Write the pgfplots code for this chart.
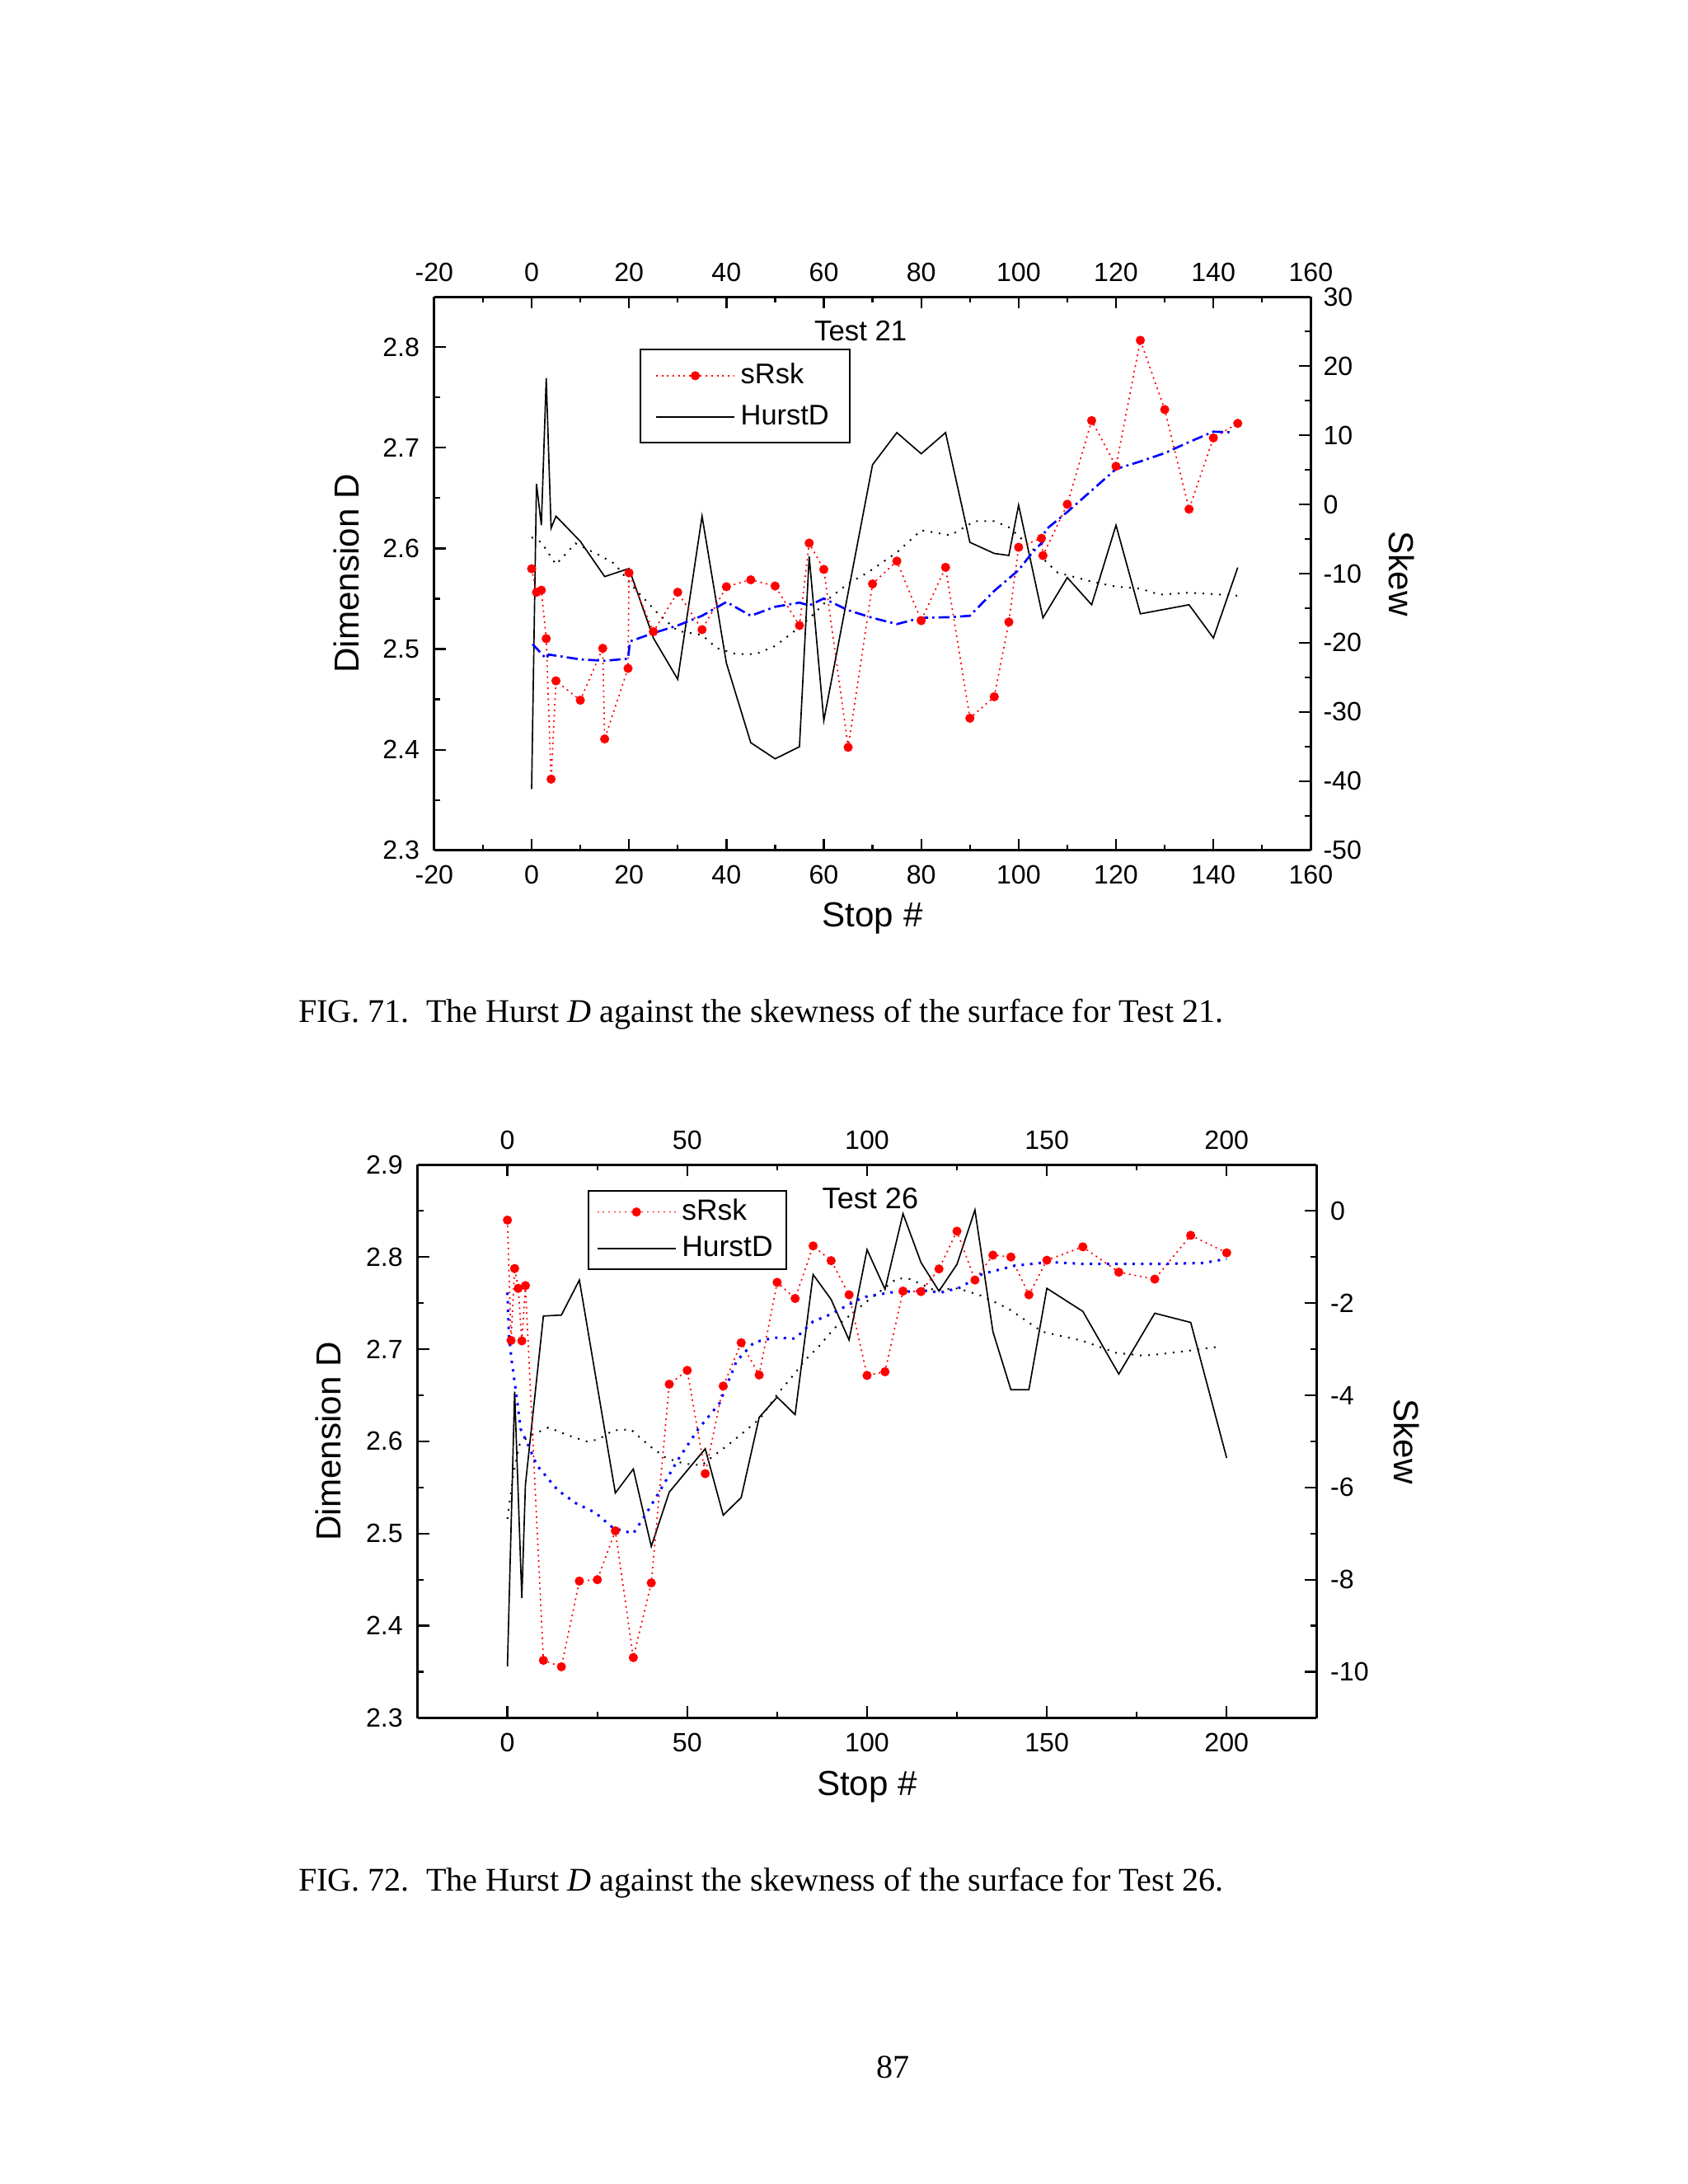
\documentclass[border=0pt]{standalone}
\usepackage{pgfplots}
\pgfplotsset{compat=1.18}
\usepackage{fontspec}
\setmainfont{Liberation Serif}
\newfontfamily\arial{Liberation Sans}

\pgfplotstableread{
x y
0 2.361
1 2.664
2 2.623
3 2.769
4 2.620
5 2.632
10 2.607
15 2.572
20 2.580
25 2.511
30 2.470
35 2.632
40 2.486
45 2.407
50 2.391
55 2.403
57 2.592
60 2.429
70 2.683
75 2.715
80 2.694
85 2.715
90 2.606
95 2.595
98 2.593
100 2.643
105 2.531
110 2.571
115 2.544
120 2.623
125 2.535
135 2.544
140 2.511
145 2.581
}\hurstA

\pgfplotstableread{
x y
0 2.611
2 2.606
5 2.584
9 2.605
14 2.593
17 2.585
21 2.561
26 2.535
30 2.518
35 2.514
38 2.501
42 2.495
46 2.495
50 2.503
54 2.518
58 2.535
61 2.550
65 2.565
69 2.576
75 2.596
80 2.618
86 2.613
91 2.627
95 2.627
98 2.621
103 2.599
108 2.576
115 2.567
120 2.562
125 2.560
129 2.554
135 2.556
145 2.553
}\fitHA

\pgfplotstableread{
x y
0 -9.3
1 -12.7
2 -12.4
3 -19.4
4 -39.7
5 -25.5
10 -28.3
14.6 -20.8
15 -33.9
19.8 -23.7
20 -9.9
25 -18.4
30 -12.7
35 -18.1
40 -11.9
45 -10.9
50 -11.8
55 -17.5
57 -5.6
60 -9.4
65 -35.1
70 -11.5
75 -8.2
80 -16.8
85 -9.1
90 -30.9
95 -27.8
98 -17.0
100 -6.2
104.7 -4.9
105 -7.4
110 0.0
115 12.1
120 5.5
125 23.7
130 13.7
135 -0.7
140 9.6
145 11.7
}\skewA

\pgfplotstableread{
x y
0.2 -20.2
3 -22.3
3.5 -21.7
10 -22.4
15 -22.6
19.8 -22.3
20.2 -19.8
25 -18.6
30 -17.5
35 -16.1
40 -14.1
45 -16.1
50 -14.8
55 -14.2
57 -14.6
60 -13.6
65 -15.3
70 -16.4
75 -17.3
80 -16.4
86 -16.3
90 -16.1
95 -12.5
100 -9.5
103 -6.8
105 -5.4
105.5 -3.7
110 -1.1
115 2.0
120 5.1
125 6.2
130 7.4
135 9.0
140 10.5
144 10.4
}\fitSA

\pgfplotstableread{
x y
0 2.356
2 2.654
4 2.430
5 2.553
10 2.736
15 2.737
20 2.775
30 2.544
35 2.570
40 2.486
45 2.545
55 2.592
60 2.520
65 2.539
70 2.626
75 2.648
80 2.629
85 2.781
90 2.754
95 2.710
100 2.808
105 2.765
110 2.847
115 2.794
120 2.763
125 2.792
130 2.851
135 2.719
140 2.656
145 2.656
150 2.766
160 2.741
170 2.673
180 2.739
190 2.729
200 2.582
}\hurstB

\pgfplotstableread{
x y
0 2.516
1.6 2.563
3.3 2.596
5.7 2.605
11.4 2.615
18 2.605
22 2.600
25.3 2.602
29.4 2.612
34.3 2.613
39.2 2.596
44.1 2.582
49 2.576
54 2.574
57.2 2.584
61.3 2.596
65.4 2.609
70.3 2.625
75.2 2.652
80 2.674
82.5 2.687
86.6 2.703
90.7 2.722
95.6 2.738
100 2.752
108.4 2.777
112 2.776
118.7 2.764
125.3 2.766
131.8 2.758
139.3 2.744
148.7 2.719
160 2.709
169.3 2.696
176.8 2.693
182.4 2.695
190.8 2.699
198.3 2.703
}\fitHB

\pgfplotstableread{
x y
0 -0.2
1 -2.81
2 -1.25
3 -1.68
4 -2.82
5 -1.62
10 -9.75
15 -9.89
20 -8.03
25 -8.0
30 -6.94
35 -9.69
40 -8.07
45 -3.76
50 -3.46
55 -5.70
60 -3.80
65 -2.86
70 -3.56
75 -1.55
80 -1.90
85 -0.76
90 -1.08
95 -1.82
100 -3.57
105 -3.49
110 -1.74
115 -1.75
120 -1.26
125 -0.44
130 -1.50
135 -0.96
140 -1.00
145 -1.82
150 -1.07
160 -0.78
170 -1.33
180 -1.48
190 -0.53
200 -0.91
}\skewB

\pgfplotstableread{
x y
0 -1.77
0.4 -2.69
1.2 -3.26
2.5 -4.0
3.7 -4.74
5.7 -5.07
8.2 -5.52
14 -6.06
19 -6.34
24.5 -6.55
29.4 -6.88
35 -7.0
38.4 -6.59
42.5 -6.06
47.4 -5.40
53 -4.74
59 -4.17
63.7 -3.26
68.6 -2.85
74.3 -2.75
80 -2.77
85 -2.40
90 -2.24
95 -2.03
99 -1.87
106.5 -1.77
116 -1.73
120.6 -1.77
126 -1.66
132 -1.37
141 -1.19
150.6 -1.11
160 -1.15
172 -1.15
182.4 -1.15
193.6 -1.13
200 -1.04
}\fitSB

\pgfplotsset{
  base/.style={
    scale only axis,
    anchor=south west,
    tick align=inside,
    major tick length=4.2pt,
    minor tick length=2.1pt,
    tick style={black, line width=0.7pt},
    axis line style={line width=0.9pt, -},
    tick label style={font=\arial\fontsize{9.6}{11}\selectfont},
    label style={font=\arial\fontsize{12.6}{14}\selectfont},
    xticklabel shift=2pt,
    /pgf/number format/assume math mode=true,
    legend image code/.code={\draw[mark repeat=2,mark phase=2] plot coordinates {(0cm,0cm) (0.5cm,0cm) (1.0cm,0cm)};},
  },
  hurst/.style={black, line width=0.5pt, no marks},
  hfit/.style={black, line width=0.6pt, dash pattern=on 0.6pt off 2.4pt, no marks},
  skew/.style={red, line width=0.5pt, dash pattern=on 0.6pt off 1.4pt, mark=*, mark size=1.4pt, mark options={solid, fill=red, draw=red}},
}

\begin{document}
\begin{tikzpicture}
\fill[white] (0,0) rectangle (612pt,792pt);

% ---------- Top chart (Test 21) ----------
\begin{axis}[base, at={(157.45pt,483.6pt)}, width=317.85pt, height=200.8pt,
  xmin=-20, xmax=160, ymin=2.3, ymax=2.85,
  axis x line*=bottom, axis y line*=left,
  yticklabel shift=1.8pt,
  xtick={-20,0,20,40,60,80,100,120,140,160}, minor x tick num=1,
  ytick={2.3,2.4,2.5,2.6,2.7,2.8}, minor y tick num=1,
  yticklabel style={/pgf/number format/.cd, fixed, fixed zerofill, precision=1},
  xlabel={Stop \#}, ylabel={Dimension D},
  xlabel style={at={(axis description cs:0.5,-0.122)}, anchor=center},
  ylabel style={at={(axis description cs:-0.0997,0.5)}, anchor=center},
]
\addplot[hfit] table[x=x,y=y] {\fitHA};
\addplot[hurst] table[x=x,y=y] {\hurstA};
\end{axis}
\begin{axis}[base, at={(157.45pt,483.6pt)}, width=317.85pt, height=200.8pt,
  xmin=-20, xmax=160, ymin=-50, ymax=30,
  axis x line*=top, axis y line*=right,
  yticklabel shift=1pt,
  xtick={-20,0,20,40,60,80,100,120,140,160}, minor x tick num=1,
  ytick={-50,-40,-30,-20,-10,0,10,20,30}, minor y tick num=1,
  ylabel={Skew},
  ylabel style={at={(axis description cs:1.104,0.5)}, anchor=center, rotate=180},
  legend style={at={(0.234,0.906)}, anchor=north west, draw=black, line width=0.6pt,
    font=\arial\fontsize{10.3}{12}\selectfont, legend cell align=left,
    inner xsep=5.5pt, inner ysep=3pt, row sep=2.2pt},
]
\addplot[skew] table[x=x,y=y] {\skewA};
\addlegendentry{sRsk}
\addlegendimage{black, line width=0.5pt}
\addlegendentry{HurstD}
\addplot[blue, line width=0.8pt, dash pattern=on 4pt off 1.5pt on 0.8pt off 1.5pt, no marks, forget plot] table[x=x,y=y] {\fitSA};
\node[font=\arial\fontsize{10.4}{12}\selectfont] at (rel axis cs:0.4865,0.9386) {Test 21};
\end{axis}

% ---------- Bottom chart (Test 26) ----------
\begin{axis}[base, at={(151.4pt,169.0pt)}, width=326pt, height=200.6pt,
  xmin=-25, xmax=225, ymin=2.3, ymax=2.9,
  axis x line*=bottom, axis y line*=left,
  yticklabel shift=1.8pt,
  xtick={0,50,100,150,200}, minor x tick num=1,
  ytick={2.3,2.4,2.5,2.6,2.7,2.8,2.9}, minor y tick num=1,
  yticklabel style={/pgf/number format/.cd, fixed, fixed zerofill, precision=1},
  xlabel={Stop \#}, ylabel={Dimension D},
  xlabel style={at={(axis description cs:0.5,-0.125)}, anchor=center},
  ylabel style={at={(axis description cs:-0.099,0.5)}, anchor=center},
]
\addplot[hfit] table[x=x,y=y] {\fitHB};
\addplot[hurst] table[x=x,y=y] {\hurstB};
\end{axis}
\begin{axis}[base, at={(151.4pt,169.0pt)}, width=326pt, height=200.6pt,
  xmin=-25, xmax=225, ymin=-11, ymax=1,
  axis x line*=top, axis y line*=right,
  yticklabel shift=1.5pt,
  xtick={0,50,100,150,200}, minor x tick num=1,
  ytick={-10,-8,-6,-4,-2,0}, minor y tick num=1,
  ylabel={Skew},
  ylabel style={at={(axis description cs:1.100,0.5)}, anchor=center, rotate=180},
  legend style={at={(0.189,0.955)}, anchor=north west, draw=black, line width=0.6pt,
    font=\arial\fontsize{10.6}{12}\selectfont, legend cell align=left,
    inner xsep=3pt, inner ysep=1.2pt, row sep=0.3pt},
]
\addplot[skew] table[x=x,y=y] {\skewB};
\addlegendentry{sRsk}
\addlegendimage{black, line width=0.5pt}
\addlegendentry{HurstD}
\addplot[blue, line width=0.9pt, dash pattern=on 0.9pt off 2.2pt, no marks, forget plot] table[x=x,y=y] {\fitSB};
\node[font=\arial\fontsize{10.8}{12}\selectfont] at (rel axis cs:0.5036,0.940) {Test 26};
\end{axis}

% ---------- Captions and page number ----------
\node[anchor=base west, inner sep=0pt, font=\fontsize{12}{14}\selectfont] at (108pt,421.2pt)
  {FIG. 71.\ \ The Hurst \textit{D} against the skewness of the surface for Test 21.};
\node[anchor=base west, inner sep=0pt, font=\fontsize{12}{14}\selectfont] at (108pt,106.1pt)
  {FIG. 72.\ \ The Hurst \textit{D} against the skewness of the surface for Test 26.};
\node[anchor=base, font=\fontsize{12}{14}\selectfont] at (323.7pt,38.4pt) {87};
\end{tikzpicture}
\end{document}
